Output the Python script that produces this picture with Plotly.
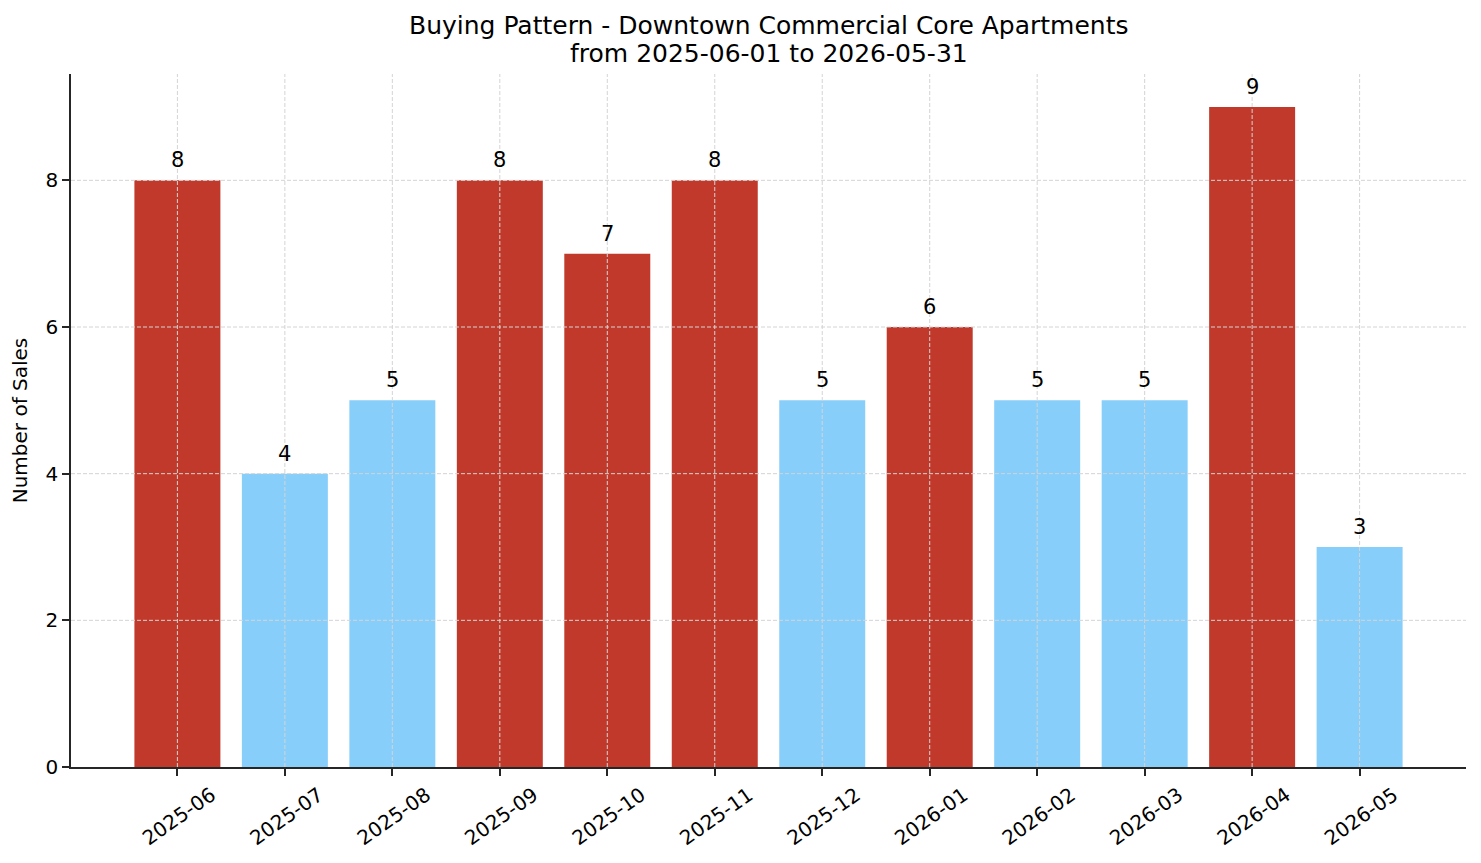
import numpy as np
import plotly.graph_objects as go

months = ["2025-06", "2025-07", "2025-08", "2025-09", "2025-10", "2025-11",
          "2025-12", "2026-01", "2026-02", "2026-03", "2026-04", "2026-05"]
sales = [8, 4, 5, 8, 7, 8, 5, 6, 5, 5, 9, 3]
y_ticks = [0, 2, 4, 6, 8]
title_lines = ["Buying Pattern - Downtown Commercial Core Apartments",
               "from 2025-06-01 to 2026-05-31"]

RED = "#c0392b"
BLUE = "#87cefa"
GRID = "#d4d4d4"
AXIS = "#262626"
med = float(np.median(sales))
colors = [RED if v > med else BLUE for v in sales]

FONT = "DejaVu Sans"
fig = go.Figure()
fig.add_trace(go.Bar(
    x=list(range(len(months))), y=sales, marker_color=colors,
    marker_line_width=0, width=0.8, showlegend=False,
))
for i, v in enumerate(sales):
    fig.add_annotation(x=i, y=v, text=str(v), showarrow=False,
                       yanchor="bottom", yshift=6,
                       font=dict(family=FONT, size=21, color="#000000"))

# dashed grid drawn above the bars (as in the reference)
for i in range(len(months)):
    fig.add_shape(type="line", xref="x", yref="paper", x0=i, x1=i, y0=0, y1=1,
                  line=dict(color=GRID, width=1, dash="4px,2px"), layer="above")
for t in y_ticks[1:]:
    fig.add_shape(type="line", xref="paper", yref="y", x0=0, x1=1, y0=t, y1=t,
                  line=dict(color=GRID, width=1, dash="4px,2px"), layer="above")

# two-line title
for line, ypos in zip(title_lines, [1.0707, 1.0289]):
    fig.add_annotation(xref="paper", yref="paper", x=0.5, y=ypos, text=line,
                       showarrow=False, xanchor="center", yanchor="middle",
                       font=dict(family=FONT, size=25, color="#000000"))

fig.update_layout(
    width=1481, height=863,
    margin=dict(l=71, r=15, t=74, b=96),
    paper_bgcolor="white", plot_bgcolor="white",
    font=dict(family=FONT, size=20, color="#000000"),
)
fig.update_xaxes(
    range=[-0.99, 11.99],
    tickmode="array", tickvals=list(range(len(months))), ticktext=months,
    tickangle=-35, ticklabelshift=34,
    showline=True, linecolor=AXIS, linewidth=1.6,
    ticks="outside", ticklen=7, tickwidth=1.6, tickcolor=AXIS,
    showgrid=False, zeroline=False, layer="above traces",
    tickfont=dict(family=FONT, size=20),
)
fig.update_yaxes(
    range=[0, 9.45],
    tickmode="array", tickvals=y_ticks,
    showline=True, linecolor=AXIS, linewidth=1.6,
    ticks="outside", ticklen=7, tickwidth=1.6, tickcolor=AXIS,
    showgrid=False, zeroline=False, layer="above traces",
    title=dict(text="Number of Sales", font=dict(family=FONT, size=20), standoff=12),
    tickfont=dict(family=FONT, size=20),
)
fig.write_html("out.html")
